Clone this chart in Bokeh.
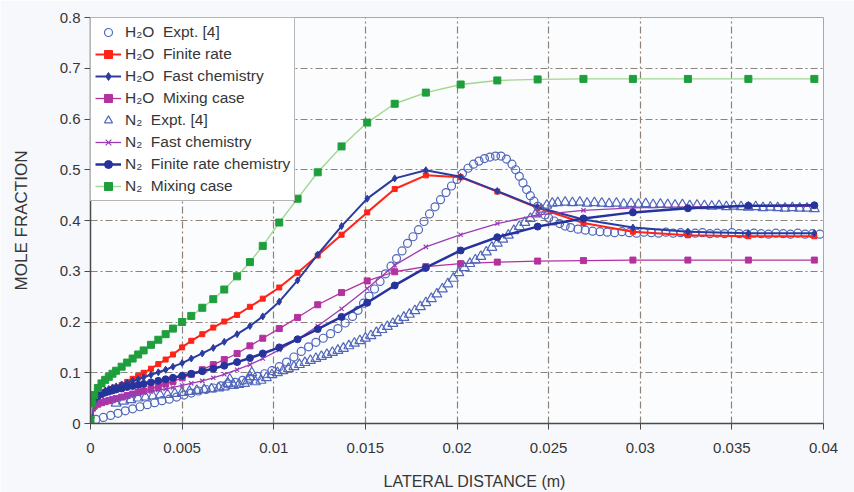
from bokeh.plotting import figure
from bokeh.models import FixedTicker, Legend, LegendItem
from bokeh.embed import file_html
from bokeh.resources import INLINE

# ---- model profiles, sampled at the cell centres of the computational grid ----
X_MODEL = [0.0, 0.0001, 0.0002, 0.0004, 0.0006, 0.0008, 0.0010, 0.0012, 0.0014, 0.0017,
           0.0020, 0.0023, 0.0026, 0.0029, 0.0033, 0.0037, 0.0041, 0.0045, 0.0050, 0.0055,
           0.0061, 0.0067, 0.0073, 0.0080, 0.0087, 0.0094, 0.0103, 0.0113, 0.0124, 0.0137,
           0.0151, 0.0166, 0.0183, 0.0202, 0.0222, 0.0244, 0.0269, 0.0296, 0.0326, 0.0359,
           0.0395]

H2O_FINITE = [0.030, 0.040, 0.045, 0.052, 0.057, 0.061, 0.065, 0.068, 0.071, 0.076,
              0.082, 0.088, 0.094, 0.100, 0.108, 0.117, 0.126, 0.136, 0.150, 0.163,
              0.176, 0.189, 0.201, 0.214, 0.230, 0.246, 0.268, 0.297, 0.331, 0.372,
              0.416, 0.462, 0.489, 0.485, 0.457, 0.425, 0.395, 0.378, 0.371, 0.369,
              0.369]

H2O_FAST = [0.020, 0.045, 0.052, 0.058, 0.062, 0.065, 0.068, 0.071, 0.073, 0.077,
            0.080, 0.084, 0.087, 0.091, 0.096, 0.101, 0.106, 0.112, 0.119, 0.128,
            0.138, 0.149, 0.161, 0.176, 0.192, 0.211, 0.240, 0.282, 0.333, 0.389,
            0.443, 0.483, 0.499, 0.486, 0.458, 0.426, 0.402, 0.386, 0.378, 0.375,
            0.375]

H2O_MIXING = [0.020, 0.030, 0.034, 0.038, 0.041, 0.043, 0.045, 0.047, 0.049, 0.052,
              0.055, 0.058, 0.061, 0.064, 0.068, 0.073, 0.078, 0.083, 0.090, 0.097,
              0.106, 0.116, 0.126, 0.138, 0.153, 0.168, 0.187, 0.209, 0.234, 0.258,
              0.281, 0.299, 0.309, 0.315, 0.318, 0.320, 0.321, 0.322, 0.322, 0.322,
              0.322]

N2_FAST = [0.015, 0.030, 0.036, 0.041, 0.044, 0.046, 0.048, 0.050, 0.051, 0.053,
           0.055, 0.057, 0.059, 0.061, 0.063, 0.066, 0.068, 0.071, 0.075, 0.079,
           0.084, 0.090, 0.097, 0.106, 0.116, 0.128, 0.145, 0.166, 0.192, 0.226,
           0.266, 0.312, 0.348, 0.372, 0.394, 0.411, 0.420, 0.425, 0.427, 0.428,
           0.428]

N2_FINITE = [0.012, 0.040, 0.048, 0.054, 0.058, 0.061, 0.063, 0.065, 0.067, 0.069,
             0.072, 0.074, 0.076, 0.078, 0.081, 0.084, 0.087, 0.090, 0.094, 0.098,
             0.103, 0.108, 0.114, 0.121, 0.129, 0.138, 0.150, 0.166, 0.186, 0.210,
             0.238, 0.272, 0.307, 0.341, 0.367, 0.388, 0.404, 0.416, 0.424, 0.429,
             0.430]

N2_MIXING = [0.008, 0.040, 0.056, 0.070, 0.079, 0.086, 0.092, 0.098, 0.104, 0.112,
             0.120, 0.128, 0.136, 0.144, 0.155, 0.165, 0.176, 0.187, 0.200, 0.212,
             0.228, 0.245, 0.264, 0.290, 0.318, 0.350, 0.396, 0.443, 0.495, 0.546,
             0.593, 0.630, 0.652, 0.668, 0.676, 0.678, 0.679, 0.679, 0.679, 0.679,
             0.679]

# ---- measurements [4] ----
H2O_EXPT_X = [0.0003, 0.0007, 0.0011, 0.0015, 0.0019, 0.0023, 0.0027, 0.0031, 0.0035, 0.0039,
              0.0043, 0.0047, 0.0051, 0.0055, 0.0059, 0.0063, 0.0067, 0.0071, 0.0075, 0.0079,
              0.0083, 0.0087, 0.0091, 0.0095, 0.0099, 0.0103, 0.0107, 0.0111, 0.0115, 0.0119,
              0.0123, 0.0127, 0.0131, 0.0135, 0.0139, 0.0143, 0.0146, 0.0149, 0.0152, 0.0155,
              0.0158, 0.0161, 0.0164, 0.0167, 0.0170, 0.0173, 0.0176, 0.0179, 0.0182, 0.0185,
              0.0188, 0.0191, 0.0194, 0.0197, 0.0200, 0.0203, 0.0206, 0.0209, 0.0212, 0.0215,
              0.0218, 0.0221, 0.0224, 0.0227, 0.0230, 0.0232, 0.0234, 0.0236, 0.0238, 0.0240,
              0.0242, 0.0244, 0.0246, 0.0248, 0.0250, 0.0253, 0.0256, 0.0259, 0.0262, 0.0266,
              0.0270, 0.0274, 0.0278, 0.0282, 0.0286, 0.0290, 0.0294, 0.0298, 0.0302, 0.0306,
              0.0310, 0.0314, 0.0318, 0.0322, 0.0326, 0.0330, 0.0334, 0.0338, 0.0342, 0.0346,
              0.0350, 0.0354, 0.0358, 0.0362, 0.0366, 0.0370, 0.0374, 0.0378, 0.0382, 0.0386,
              0.0390, 0.0394, 0.0398]
H2O_EXPT_Y = [0.008, 0.012, 0.016, 0.020, 0.025, 0.029, 0.033, 0.037, 0.041, 0.045,
              0.048, 0.052, 0.056, 0.060, 0.064, 0.067, 0.070, 0.074, 0.078, 0.081,
              0.085, 0.089, 0.093, 0.098, 0.104, 0.112, 0.121, 0.131, 0.142, 0.151,
              0.160, 0.168, 0.177, 0.187, 0.198, 0.211, 0.223, 0.237, 0.251, 0.265,
              0.280, 0.295, 0.310, 0.325, 0.340, 0.355, 0.368, 0.382, 0.398, 0.413,
              0.427, 0.441, 0.455, 0.468, 0.481, 0.493, 0.503, 0.511, 0.517, 0.522,
              0.525, 0.527, 0.527, 0.521, 0.511, 0.500, 0.487, 0.474, 0.461, 0.449,
              0.438, 0.428, 0.419, 0.411, 0.405, 0.399, 0.394, 0.389, 0.386, 0.383,
              0.381, 0.379, 0.378, 0.377, 0.376, 0.378, 0.376, 0.375, 0.377, 0.376,
              0.375, 0.377, 0.375, 0.376, 0.374, 0.375, 0.376, 0.374, 0.375, 0.374,
              0.376, 0.374, 0.373, 0.375, 0.374, 0.373, 0.375, 0.374, 0.373, 0.375,
              0.373, 0.374, 0.373]

N2_EXPT_X = [0.0014, 0.0018, 0.0022, 0.0026, 0.0030, 0.0034, 0.0038, 0.0042, 0.0046, 0.0050,
             0.0054, 0.0058, 0.0062, 0.0066, 0.0070, 0.0073, 0.0075, 0.0076, 0.0078, 0.0081,
             0.0084, 0.0086, 0.0087, 0.0088, 0.0090, 0.0093, 0.0096, 0.0099, 0.0102, 0.0105,
             0.0108, 0.0111, 0.0114, 0.0117, 0.0120, 0.0123, 0.0126, 0.0129, 0.0132, 0.0135,
             0.0138, 0.0141, 0.0144, 0.0147, 0.0150, 0.0153, 0.0156, 0.0159, 0.0162, 0.0165,
             0.0168, 0.0171, 0.0174, 0.0177, 0.0180, 0.0183, 0.0186, 0.0189, 0.0192, 0.0195,
             0.0198, 0.0201, 0.0204, 0.0207, 0.0210, 0.0213, 0.0216, 0.0219, 0.0222, 0.0225,
             0.0228, 0.0231, 0.0234, 0.0237, 0.0240, 0.0243, 0.0246, 0.0249, 0.0252, 0.0255,
             0.0259, 0.0263, 0.0267, 0.0271, 0.0275, 0.0279, 0.0283, 0.0287, 0.0291, 0.0295,
             0.0299, 0.0303, 0.0307, 0.0311, 0.0315, 0.0319, 0.0323, 0.0327, 0.0331, 0.0335,
             0.0339, 0.0343, 0.0347, 0.0351, 0.0355, 0.0359, 0.0363, 0.0367, 0.0371, 0.0375,
             0.0379, 0.0383, 0.0387, 0.0391, 0.0395]
N2_EXPT_Y = [0.040, 0.044, 0.047, 0.050, 0.052, 0.054, 0.056, 0.057, 0.059, 0.061,
             0.063, 0.065, 0.067, 0.068, 0.070, 0.072, 0.079, 0.087, 0.075, 0.077,
             0.079, 0.084, 0.092, 0.100, 0.082, 0.085, 0.090, 0.096, 0.100, 0.104,
             0.108, 0.112, 0.116, 0.120, 0.124, 0.128, 0.132, 0.136, 0.140, 0.144,
             0.148, 0.153, 0.158, 0.163, 0.168, 0.173, 0.179, 0.185, 0.191, 0.197,
             0.203, 0.209, 0.215, 0.222, 0.230, 0.238, 0.246, 0.255, 0.265, 0.275,
             0.286, 0.297, 0.307, 0.315, 0.322, 0.329, 0.338, 0.347, 0.355, 0.363,
             0.371, 0.380, 0.388, 0.396, 0.404, 0.413, 0.422, 0.430, 0.434, 0.435,
             0.436, 0.435, 0.436, 0.434, 0.435, 0.434, 0.433, 0.434, 0.432, 0.433,
             0.432, 0.433, 0.431, 0.432, 0.431, 0.430, 0.431, 0.429, 0.430, 0.429,
             0.428, 0.429, 0.427, 0.428, 0.427, 0.426, 0.427, 0.425, 0.426, 0.425,
             0.424, 0.425, 0.424, 0.424, 0.423]

X_TICKS = [0.0, 0.005, 0.01, 0.015, 0.02, 0.025, 0.03, 0.035, 0.04]
X_TICK_LABELS = ["0", "0.005", "0.01", "0.015", "0.02", "0.025", "0.03", "0.035", "0.04"]
Y_TICKS = [0.0, 0.1, 0.2, 0.3, 0.4, 0.5, 0.6, 0.7, 0.8]
Y_TICK_LABELS = ["0", "0.1", "0.2", "0.3", "0.4", "0.5", "0.6", "0.7", "0.8"]

FONT = "Liberation Sans"
TEXT = "#363636"
NB = "\u00a0"

p = figure(width=854, height=492, x_range=(0, 0.04), y_range=(0, 0.8),
           output_backend="svg", toolbar_location=None,
           min_border_left=90, min_border_right=31, min_border_top=17, min_border_bottom=68,
           background_fill_color="#fbfcfe", border_fill_color="#f6f8fb")
p.outline_line_color = "#a8a8a8"
p.outline_line_width = 1

# axes
for ax, ticks, labels in ((p.xaxis[0], X_TICKS, X_TICK_LABELS), (p.yaxis[0], Y_TICKS, Y_TICK_LABELS)):
    ax.ticker = FixedTicker(ticks=ticks)
    ax.major_label_overrides = {t: s for t, s in zip(ticks, labels)}
    ax.axis_line_color = "#4a4a4a"
    ax.axis_line_width = 1.5
    ax.major_tick_line_color = "#4a4a4a"
    ax.major_tick_in = 0
    ax.major_tick_out = 6
    ax.minor_tick_line_color = None
    ax.major_label_text_font = FONT
    ax.major_label_text_font_size = "15px"
    ax.major_label_text_color = TEXT
    ax.axis_label_text_font = FONT
    ax.axis_label_text_font_style = "normal"
    ax.axis_label_text_color = TEXT

p.xaxis.major_label_standoff = 13
# leading non-breaking spaces move the centred title a little to the right
p.xaxis.axis_label = NB * 8 + "LATERAL DISTANCE (m)"
p.xaxis.axis_label_text_font_size = "16px"
p.xaxis.axis_label_standoff = 17

p.yaxis.major_label_standoff = 4
p.yaxis.axis_label = "MOLE FRACTION"
p.yaxis.axis_label_text_font_size = "17px"
p.yaxis.axis_label_standoff = 26

# dash-dot grid
for g in (p.xgrid[0], p.ygrid[0]):
    g.grid_line_color = "#8d8178"
    g.grid_line_width = 1.2
    g.grid_line_dash = "7 3 2 3"

EXPT_BLUE = "#5166ba"

r_h2o_expt = p.scatter(H2O_EXPT_X, H2O_EXPT_Y, marker="circle", size=8,
                       line_color=EXPT_BLUE, line_width=1.2, fill_color=None)

l_h2o_fin = p.line(X_MODEL, H2O_FINITE, line_color="#ff2418", line_width=2)
m_h2o_fin = p.scatter(X_MODEL, H2O_FINITE, marker="square", size=5,
                      line_color="#ff2418", fill_color="#ff2418")

l_h2o_fast = p.line(X_MODEL, H2O_FAST, line_color="#2b3c9e", line_width=2)
m_h2o_fast = p.scatter(X_MODEL, H2O_FAST, marker="diamond", size=7,
                       line_color="#2b3c9e", fill_color="#2b3c9e")

l_h2o_mix = p.line(X_MODEL, H2O_MIXING, line_color="#b4329e", line_width=1.3)
m_h2o_mix = p.scatter(X_MODEL, H2O_MIXING, marker="square", size=6,
                      line_color="#b4329e", fill_color="#b4329e")

r_n2_expt = p.scatter(N2_EXPT_X, N2_EXPT_Y, marker="triangle", size=10,
                      line_color=EXPT_BLUE, line_width=1.2, fill_color=None)

l_n2_fast = p.line(X_MODEL, N2_FAST, line_color="#9c3cb4", line_width=1.3)
m_n2_fast = p.scatter(X_MODEL, N2_FAST, marker="x", size=6,
                      line_color="#9c3cb4", line_width=1.2)

l_n2_fin = p.line(X_MODEL, N2_FINITE, line_color="#27339c", line_width=2.5)
m_n2_fin = p.scatter(X_MODEL, N2_FINITE, marker="circle", size=7,
                     line_color="#27339c", fill_color="#27339c")

l_n2_mix = p.line(X_MODEL, N2_MIXING, line_color="#a3d68e", line_width=1.4)
m_n2_mix = p.scatter(X_MODEL, N2_MIXING, marker="square", size=7,
                     line_color="#1f9e3c", fill_color="#1f9e3c")

items = [
    LegendItem(label=f"H\u2082O{NB} Expt. [4]", renderers=[r_h2o_expt]),
    LegendItem(label=f"H\u2082O{NB} Finite rate", renderers=[l_h2o_fin, m_h2o_fin]),
    LegendItem(label=f"H\u2082O{NB} Fast chemistry", renderers=[l_h2o_fast, m_h2o_fast]),
    LegendItem(label=f"H\u2082O{NB} Mixing case", renderers=[l_h2o_mix, m_h2o_mix]),
    LegendItem(label=f"N\u2082{NB} Expt. [4]", renderers=[r_n2_expt]),
    LegendItem(label=f"N\u2082{NB} Fast chemistry", renderers=[l_n2_fast, m_n2_fast]),
    LegendItem(label=f"N\u2082{NB} Finite rate chemistry", renderers=[l_n2_fin, m_n2_fin]),
    LegendItem(label=f"N\u2082{NB} Mixing case", renderers=[l_n2_mix, m_n2_mix]),
]
legend = Legend(items=items, location="top_left", margin=0, padding=4, spacing=2,
                glyph_width=26, glyph_height=20, label_height=20, label_standoff=4,
                label_text_font=FONT, label_text_font_size="15.5px", label_text_color=TEXT,
                border_line_color="#6e6e6e", border_line_width=1.5,
                background_fill_color="#ffffff", background_fill_alpha=1.0)
p.add_layout(legend)

open("out.html", "w").write(file_html(p, INLINE))
